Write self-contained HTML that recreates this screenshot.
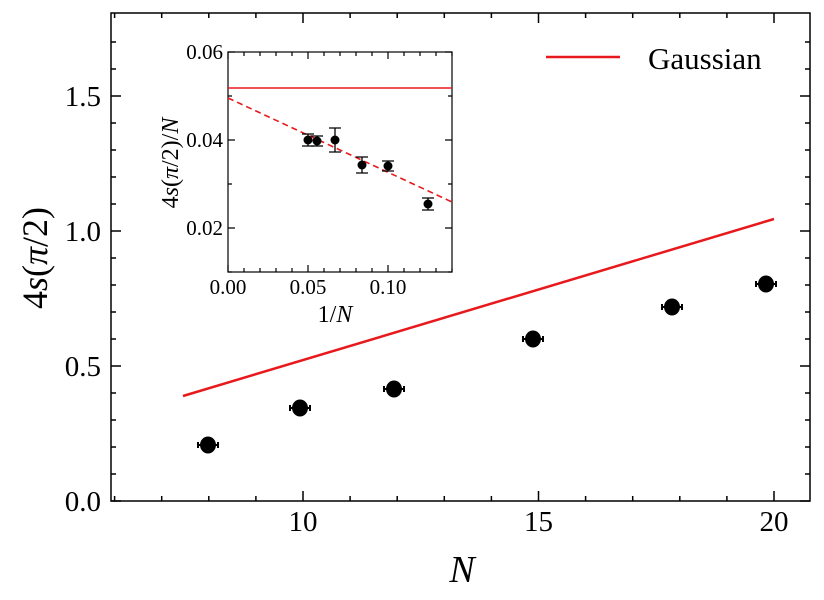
<!DOCTYPE html>
<html><head><meta charset="utf-8"><style>
html,body{margin:0;padding:0;background:#fff;}
svg{display:block;font-family:"Liberation Serif",serif;}
</style></head><body>
<svg id="s" width="824" height="600" xmlns="http://www.w3.org/2000/svg">
<rect x="0" y="0" width="824" height="600" fill="#fff"/>
<g id="g"></g>
</svg>
<script>
const NS="http://www.w3.org/2000/svg";const g=document.getElementById('g');
function el(t,a,txt){const e=document.createElementNS(NS,t);for(const k in a)e.setAttribute(k,a[k]);if(txt!==undefined)e.textContent=txt;g.appendChild(e);return e;}
const L=111,R=810,T=13,B=501;
el('rect',{x:L,y:T,width:R-L,height:B-T,fill:'none',stroke:'#000','stroke-width':1.5});
const X=n=>303+(n-10)*47.1, Y=v=>501-v*270;
let d='';
for(let n=6;n<=20;n++){const x=X(n);const len=(n%5==0)?10:5;d+=`M${x},${B}v${-len}M${x},${T}v${len}`;}
for(let i=0;i<=17;i++){const y=Y(i/10);const len=(i%5==0)?10:5;d+=`M${L},${y}h${len}M${R},${y}h${-len}`;}
el('path',{d:d,stroke:'#000','stroke-width':1.5,fill:'none'});
[[10,'10'],[15,'15'],[20,'20']].forEach(([n,t])=>el('text',{x:X(n),y:531,'font-size':29,'text-anchor':'middle'},t));
[[0,'0.0'],[0.5,'0.5'],[1,'1.0'],[1.5,'1.5']].forEach(([v,t])=>el('text',{x:101,y:Y(v)+10,'font-size':29,'text-anchor':'end'},t));
el('text',{x:462,y:582,'font-size':38,'font-style':'italic','text-anchor':'middle'},'N');
el('text',{x:0,y:0,'font-size':36,'text-anchor':'middle',transform:'translate(47,258) rotate(-90)'}).innerHTML='4<tspan font-style="italic">s</tspan>(<tspan font-style="italic">π</tspan>/2)';
el('line',{x1:183,y1:396,x2:774,y2:219,stroke:'#e8191c','stroke-width':2.5});
el('line',{x1:546,y1:57,x2:620,y2:57,stroke:'#e8191c','stroke-width':2.5});
el('text',{x:648,y:69,'font-size':31},'Gaussian');
[[208,445],[300,408],[394,389],[533,339],[672,307],[766,284]].forEach(([x,y])=>{
 el('path',{d:`M${x-10},${y-3}v6M${x+10},${y-3}v6M${x-10},${y}h20`,stroke:'#000','stroke-width':2,fill:'none'});
 el('ellipse',{cx:x,cy:y,rx:8,ry:8.5,fill:'#000'});
});
const l=228,r=452,t=52,b=272;
el('rect',{x:l,y:t,width:r-l,height:b-t,fill:'#fff',stroke:'#000','stroke-width':1.2});
const ix=v=>228+v*1600, iy=v=>52+(0.06-v)*4400;
d='';
for(let i=0;i<=14;i++){const x=ix(i/100);const len=(i%5==0)?7:4;d+=`M${x},${b}v${-len}M${x},${t}v${len}`;}
for(let i=1;i<=6;i++){const y=iy(i/100);const len=(i%2==0)?7:4;d+=`M${l},${y}h${len}M${r},${y}h${-len}`;}
el('path',{d:d,stroke:'#000','stroke-width':1.2,fill:'none'});
[[0,'0.00'],[0.05,'0.05'],[0.10,'0.10']].forEach(([v,s])=>el('text',{x:ix(v),y:294,'font-size':21,'text-anchor':'middle'},s));
[[0.02,'0.02'],[0.04,'0.04'],[0.06,'0.06']].forEach(([v,s])=>el('text',{x:223,y:iy(v)+7,'font-size':21,'text-anchor':'end'},s));
el('text',{x:335,y:322,'font-size':24,'text-anchor':'middle'}).innerHTML='1/<tspan font-style="italic">N</tspan>';
el('text',{x:0,y:0,'font-size':24,'text-anchor':'middle',transform:'translate(178,163) rotate(-90)'}).innerHTML='4<tspan font-style="italic">s</tspan>(<tspan font-style="italic">π</tspan>/2)/<tspan font-style="italic">N</tspan>';
el('line',{x1:l,y1:88,x2:r,y2:88,stroke:'#e8191c','stroke-width':1.6});
el('line',{x1:l,y1:98,x2:r,y2:202,stroke:'#e8191c','stroke-width':1.6,'stroke-dasharray':'6,4'});
[[308,140,6],[317,141,5],[335,140,12],[362,165,8],[388,166,5],[428,204,6]].forEach(([x,y,e])=>{
 el('path',{d:`M${x},${y-e}v${2*e}M${x-6},${y-e}h12M${x-6},${y+e}h12`,stroke:'#000','stroke-width':1.3,fill:'none'});
 el('circle',{cx:x,cy:y,r:4.5,fill:'#000'});
});
</script>
</body></html>
